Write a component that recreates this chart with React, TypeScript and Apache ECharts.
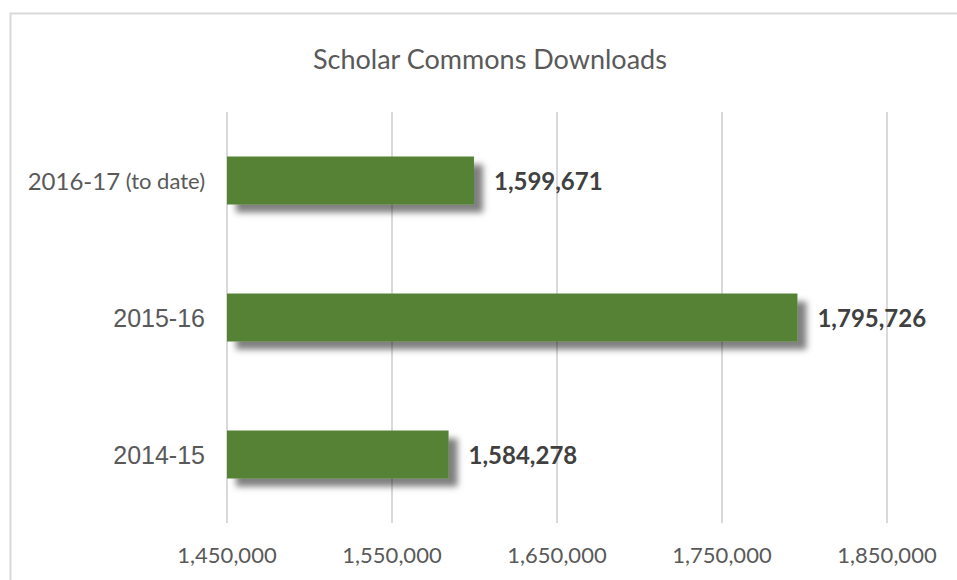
import React, { useEffect, useRef } from "react";
import * as echarts from "echarts";

const title = "Scholar Commons Downloads";
const categories = ["2014-15", "2015-16", "2016-17"];
const downloads = [1584278, 1795726, 1599671];
const tickValues = [1450000, 1550000, 1650000, 1750000, 1850000];
const axisMin = 1450000;
const axisMax = 1850000;

const fmt = (v: number) => v.toLocaleString("en-US");

export default function App() {
  const ref = useRef<HTMLDivElement>(null);
  useEffect(() => {
    if (!ref.current) return;
    const chart = echarts.init(ref.current, null, { renderer: "svg" });
    chart.setOption({
      animation: false,
      backgroundColor: "#ffffff",
      title: {
        text: title,
        left: 308,
        top: 40,
        textStyle: { fontFamily: "Lato", fontSize: 27, fontWeight: "normal", color: "#595959" },
      },
      graphic: [
        {
          type: "rect",
          left: 8,
          top: 11,
          shape: { width: 1000, height: 620 },
          style: { fill: "none", stroke: "#d9d9d9", lineWidth: 2 },
          silent: true,
          z: -10,
        },
      ],
      grid: { left: 227, right: 70, top: 112, bottom: 57, containLabel: false },
      xAxis: {
        type: "value",
        min: axisMin,
        max: axisMax,
        axisLine: { show: false },
        axisTick: { show: false, customValues: tickValues },
        splitLine: { show: true, lineStyle: { color: "#d9d9d9", width: 2 } },
        axisLabel: {
          customValues: tickValues,
          formatter: (v: number) => fmt(v),
          fontFamily: "Lato",
          fontSize: 22,
          color: "#595959",
          margin: 20,
        },
      },
      yAxis: {
        type: "category",
        data: categories,
        axisLine: { show: false },
        axisTick: { show: false },
        axisLabel: {
          margin: 22,
          formatter: (v: string) => (v === "2016-17" ? "{a|2016-17}{b| (to date)}" : "{c|" + v + "}"),
          rich: {
            a: { fontFamily: "Lato", fontSize: 24, color: "#595959" },
            b: { fontFamily: "Lato", fontSize: 22, color: "#595959" },
            c: { fontFamily: "Liberation Sans", fontSize: 25, color: "#595959" },
          },
        },
      },
      series: [
        {
          type: "bar",
          data: downloads,
          barWidth: 48,
          itemStyle: {
            color: "#548235",
            shadowColor: "rgba(0,0,0,0.5)",
            shadowBlur: 6,
            shadowOffsetX: 9,
            shadowOffsetY: 8,
          },
          label: {
            show: true,
            position: "right",
            distance: 20,
            formatter: (p: any) => fmt(p.value),
            fontFamily: "Lato",
            fontWeight: "bold",
            fontSize: 24,
            color: "#404040",
          },
        },
      ],
    });
    return () => chart.dispose();
  }, []);
  return (
    <div
      ref={ref}
      style={{ position: "fixed", left: 0, top: 0, width: 957, height: 580 }}
    />
  );
}
